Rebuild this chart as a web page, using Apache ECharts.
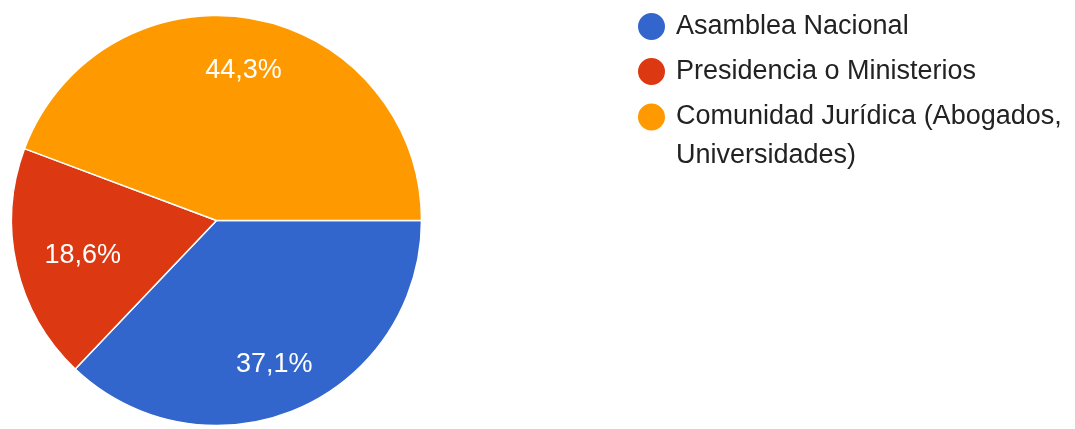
<!DOCTYPE html>
<html>
<head>
<meta charset="utf-8">
<script src="https://cdn.jsdelivr.net/npm/echarts@6/dist/echarts.min.js"></script>
<style>
html,body{margin:0;padding:0;background:#fff;}
#main{width:1075px;height:429px;}
</style>
</head>
<body>
<div id="main"></div>
<script>
const categories = ['Asamblea Nacional', 'Presidencia o Ministerios', 'Comunidad Jurídica (Abogados, Universidades)'];
const values = [37.1, 18.6, 44.3];
const colors = ['#3366CC', '#DC3912', '#FF9900'];

const FONT = '"Liberation Sans", Arial, sans-serif';
const center = [216.5, 220.5];
const R = 205;
const labelOffsets = [[-4, 0], [19, 0], [-1, 4]];

const pieData = categories.map((c, i) => ({ name: c, value: values[i], itemStyle: { color: colors[i] } }));
const labelData = categories.map((c, i) => ({ name: c, value: values[i], label: { offset: labelOffsets[i] } }));

const chart = echarts.init(document.getElementById('main'), null, { renderer: 'canvas' });
const legendText = { fontFamily: FONT, fontSize: 27, color: '#222', padding: [0, 0, 0, 5] };
chart.setOption({
  animation: false,
  color: colors,
  legend: [
    {
      data: [categories[0], categories[1]],
      orient: 'vertical',
      left: 636,
      top: 11,
      padding: 0,
      itemWidth: 29,
      itemHeight: 29,
      itemGap: 14,
      icon: 'circle',
      selectedMode: false,
      textStyle: Object.assign({ lineHeight: 27 }, legendText)
    },
    {
      data: [categories[2]],
      orient: 'vertical',
      left: 636,
      top: 117 - 58.5,
      padding: 0,
      itemWidth: 29,
      itemHeight: 29,
      icon: 'circle',
      selectedMode: false,
      formatter: function () { return '\nComunidad Jurídica (Abogados,\nUniversidades)'; },
      textStyle: Object.assign({ lineHeight: 39 }, legendText)
    }
  ],
  series: [
    {
      type: 'pie',
      center: center,
      radius: [0, R],
      startAngle: 0,
      clockwise: true,
      silent: true,
      data: pieData,
      itemStyle: { borderColor: '#fff', borderWidth: 1.5 },
      label: { show: false },
      labelLine: { show: false }
    },
    {
      type: 'pie',
      center: center,
      radius: [R * 0.5, R],
      startAngle: 0,
      clockwise: true,
      silent: true,
      data: labelData,
      itemStyle: { color: 'rgba(0,0,0,0)', borderWidth: 0 },
      label: {
        show: true,
        position: 'inside',
        color: '#fff',
        fontFamily: FONT,
        fontSize: 27,
        formatter: function (p) { return p.value.toFixed(1).replace('.', ',') + '%'; }
      },
      labelLine: { show: false }
    }
  ]
});
</script>
</body>
</html>
